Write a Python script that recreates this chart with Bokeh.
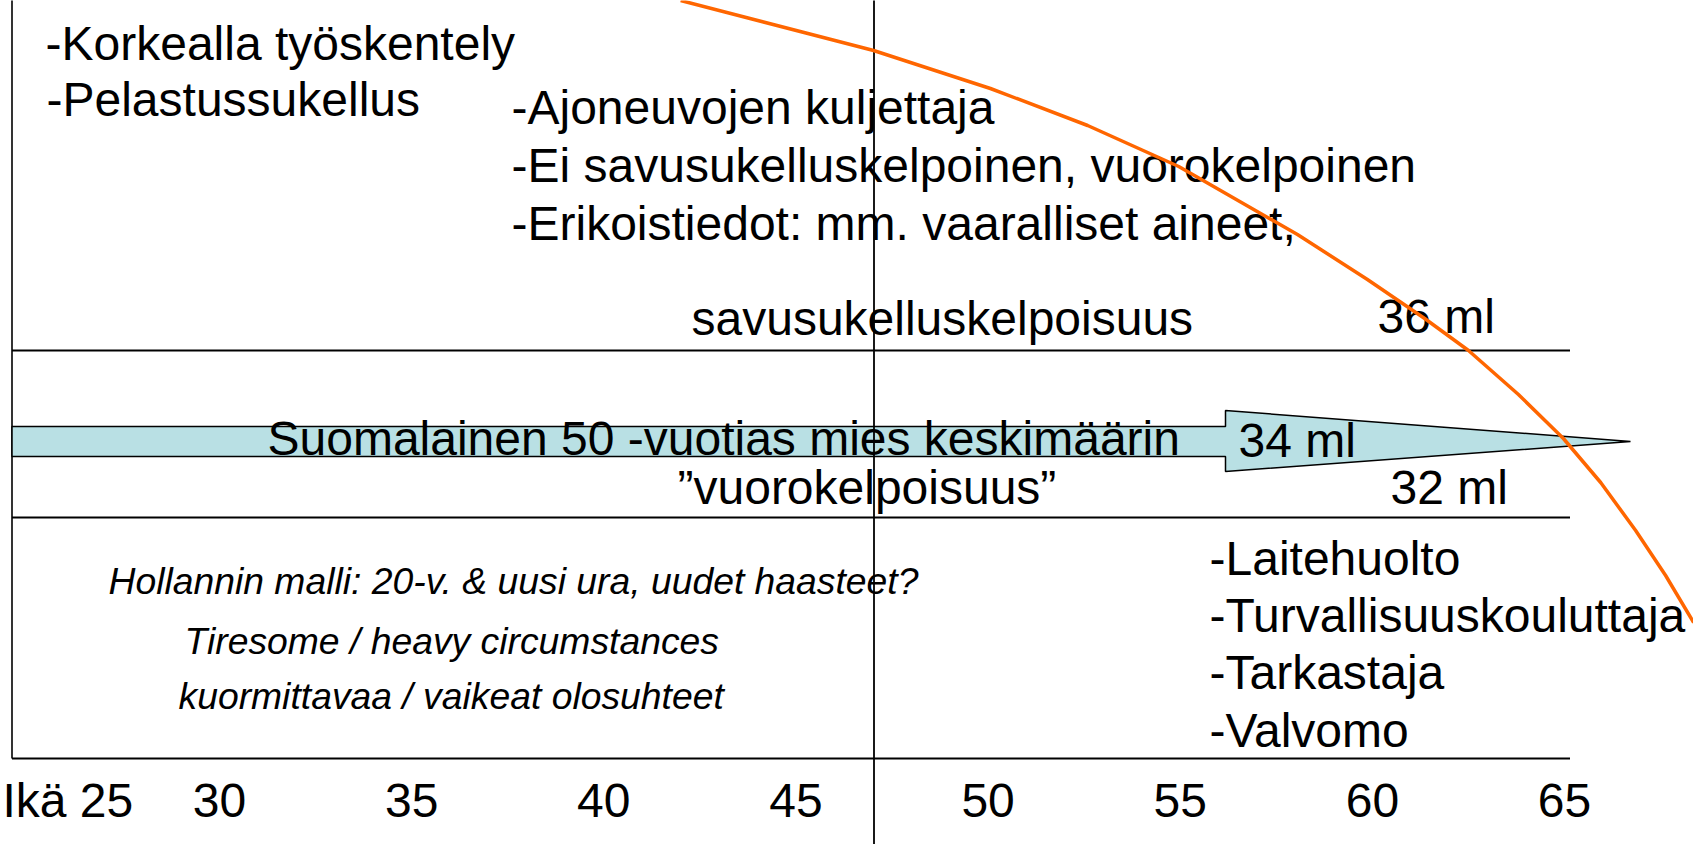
from bokeh.plotting import figure
from bokeh.models import Range1d
from bokeh.embed import file_html
from bokeh.resources import INLINE
from bokeh.core.properties import value

# ---------------- data ----------------
# Age axis
tick_ages = [30, 35, 40, 45, 50, 55, 60, 65]
tick_labels = ["30", "35", "40", "45", "50", "55", "60", "65"]
first_tick_label = "Ikä 25"

# Oxygen uptake levels (ml/kg/min) and their labels
level_values = [36, 34, 32]
level_labels = ["36 ml", "34 ml", "32 ml"]
level_names = ["savusukelluskelpoisuus",
               "Suomalainen 50 -vuotias mies keskimäärin",
               "\u201dvuorokelpoisuus\u201d"]

# Declining work-capacity curve: age vs. vertical position (chart rows, top = 0)
curve_age = [42.00, 47.02, 50.06, 52.59, 54.96, 58.05, 59.87, 61.36, 62.50,
             63.80, 64.97, 65.94, 66.85, 67.63, 68.36]
curve_row = [0, 50, 88, 125, 166, 234, 279, 318, 350, 394, 438, 482, 530, 575, 622]

# Text blocks
top_left_tasks = ["-Korkealla työskentely", "-Pelastussukellus"]
middle_tasks = ["-Ajoneuvojen kuljettaja",
                "-Ei savusukelluskelpoinen, vuorokelpoinen",
                "-Erikoistiedot: mm. vaaralliset aineet,"]
late_tasks = ["-Laitehuolto", "-Turvallisuuskouluttaja", "-Tarkastaja", "-Valvomo"]
notes = ["Hollannin malli: 20-v. & uusi ura, uudet haasteet?",
         "Tiresome / heavy circumstances",
         "kuormittavaa / vaikeat olosuhteet"]

# ---------------- layout ----------------
W, H = 1693, 844
PX_PER_YEAR = 38.43
AGE0 = 30 - 219 / PX_PER_YEAR
AGE1 = AGE0 + W / PX_PER_YEAR

def col(c):
    """screen column -> age units (layout helper for annotations)"""
    return AGE0 + c / PX_PER_YEAR

FONT = value("Liberation Sans")
BIG = 48
SMALL = 37.3
BASELINE_FIX = 0.31   # renderer places alphabetic baseline ~0.31em low

p = figure(width=W, height=H, output_backend="svg", toolbar_location=None,
           x_range=Range1d(AGE0, AGE1), y_range=Range1d(H, 0),
           min_border=0, x_axis_location=None, y_axis_location=None)
p.outline_line_color = None
p.grid.visible = False
p.background_fill_color = "white"
p.border_fill_color = "white"

left_edge = col(11.5)
right_edge = col(1569.5)
mid_age = col(873.5)

# rows of the level lines
row_36, row_34, row_32 = 350, 441, 517
row_bottom = 758

# frame lines
p.segment(x0=[left_edge] * 3, x1=[right_edge] * 3,
          y0=[row_36, row_32, row_bottom], y1=[row_36, row_32, row_bottom],
          line_color="black", line_width=2)
p.segment(x0=[left_edge], x1=[left_edge], y0=[-10], y1=[row_bottom],
          line_color="black", line_width=1.6)

# arrow (average 50-year-old man)
shaft_end = col(1225)
tip = col(1630)
ax = [left_edge, shaft_end, shaft_end, tip, shaft_end, shaft_end, left_edge]
ay = [426, 426, 410, row_34, 471, 456, 456]
p.patch(ax, ay, fill_color="#B9E0E4", line_color="black", line_width=1.5)

# vertical line at age ~47
p.segment(x0=[mid_age], x1=[mid_age], y0=[-10], y1=[860],
          line_color="black", line_width=1.8)

def txt(x, y, t, size=BIG, style="normal", align="left"):
    yy = [v - BASELINE_FIX * size for v in y]
    p.text(x=x, y=yy, text=t, text_font=FONT, text_font_size=f"{size}px",
           text_font_style=style, text_align=align,
           text_baseline="alphabetic", text_color="black")

# task lists
txt([col(45), col(46)], [58, 114], top_left_tasks)
txt([col(511)] * 3, [122, 180, 238], middle_tasks)
txt([col(1209)] * 4, [573, 630, 687, 745], late_tasks)

# level names and values
txt([col(691), col(267), col(677)], [333, 453, 502], level_names)
txt([col(1377), col(1238), col(1390)], [331, 455, 502], level_labels)

# italic notes
txt([col(108), col(184), col(178)], [592, 652, 707], notes, size=SMALL, style="italic")

# age tick labels
txt(tick_ages, [815] * len(tick_ages), tick_labels, align="center")
txt([col(2)], [815], [first_tick_label])

# orange curve on top
p.line(curve_age, curve_row, line_color="#FF6600", line_width=3.5, line_join="round")

open("out.html", "w").write(file_html(p, INLINE))
